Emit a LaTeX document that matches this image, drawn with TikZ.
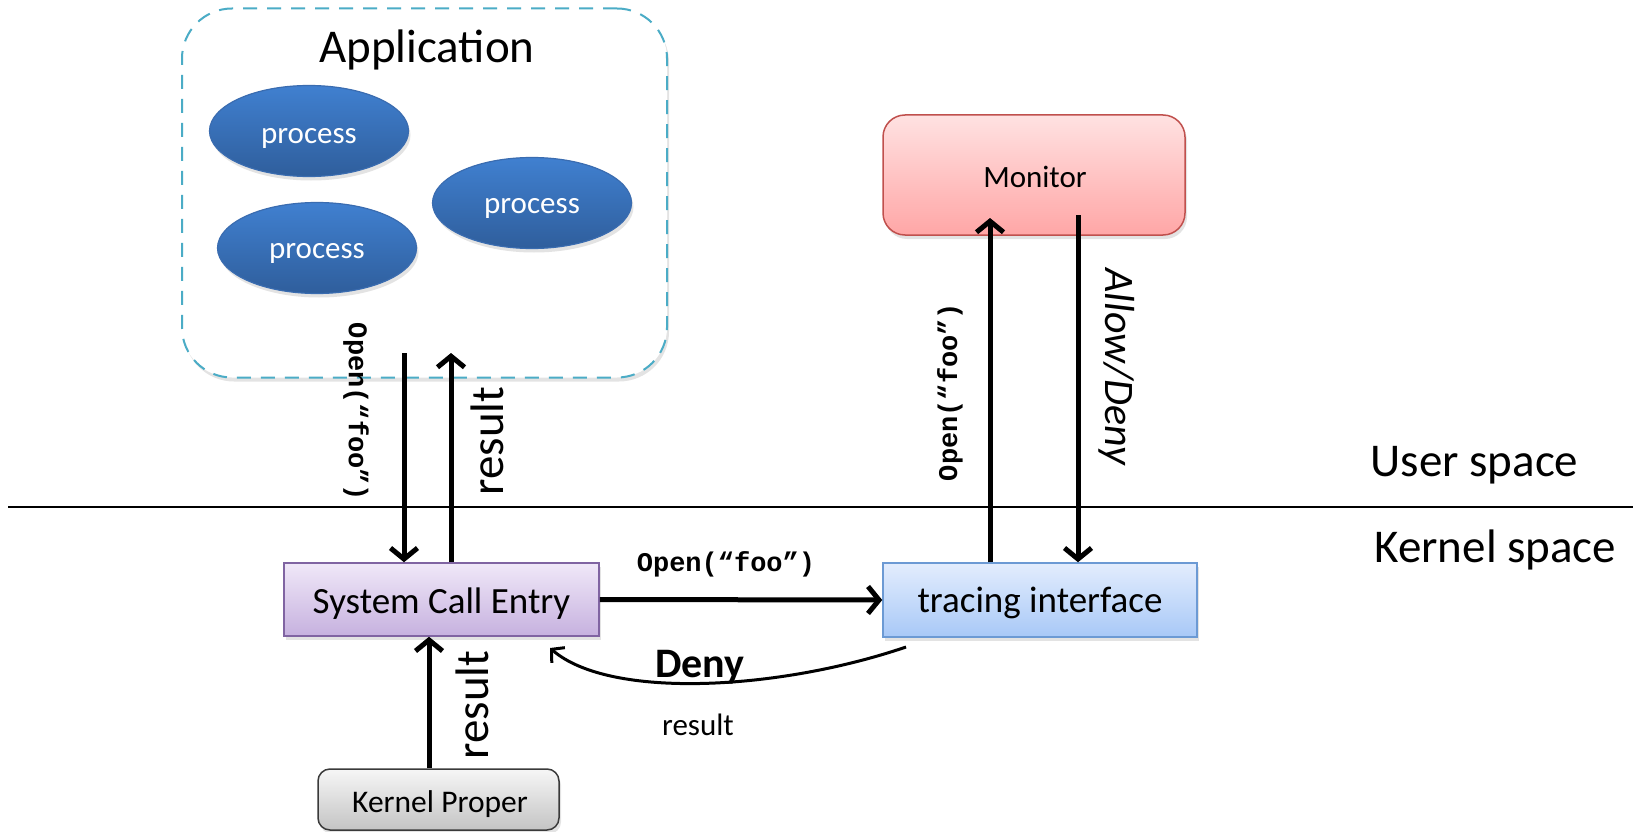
\documentclass[tikz,border=0pt]{standalone}
\usepackage{fontspec}
\setmainfont{Carlito}
\newfontfamily\monofnt{Liberation Mono}
\usetikzlibrary{arrows.meta,shapes.geometric,shadows,calc}
\definecolor{appline}{HTML}{4BACC6}
\definecolor{elltop}{HTML}{4080D0}
\definecolor{ellbot}{HTML}{2F5E9C}
\definecolor{ellline}{HTML}{3A6CB0}
\definecolor{montop}{HTML}{FFE2E2}
\definecolor{monbot}{HTML}{FFA6A6}
\definecolor{monline}{HTML}{C0504D}
\definecolor{scetop}{HTML}{F0E8F8}
\definecolor{scebot}{HTML}{C6B1DF}
\definecolor{sceline}{HTML}{8064A2}
\definecolor{trtop}{HTML}{E3EDFD}
\definecolor{trbot}{HTML}{A8C8F7}
\definecolor{trline}{HTML}{6C9AD4}
\definecolor{kptop}{HTML}{F6F6F6}
\definecolor{kpbot}{HTML}{C4C4C4}
\definecolor{kpline}{HTML}{3A3A3A}
\begin{document}
\begin{tikzpicture}[x=1pt,y=-1pt,
  shadowed/.style={drop shadow={opacity=0.22,shadow xshift=2pt,shadow yshift=-4pt}},
  appbox/.style={draw=appline,line width=2pt,dash pattern=on 14pt off 10pt,rounded corners=50pt,fill=white,shadowed,inner sep=0pt},
  procell/.style={ellipse,draw=ellline,line width=1.2pt,top color=elltop,bottom color=ellbot,shadowed,minimum width=199pt,minimum height=91pt,inner sep=0pt},
  proctext/.style={anchor=base,text=white,font=\fontsize{31}{37}\selectfont},
  boxbase/.style={line width=1.5pt,inner sep=0pt,shadowed},
  monbox/.style={boxbase,draw=monline,top color=montop,bottom color=monbot,rounded corners=22pt,minimum width=302pt,minimum height=120pt},
  scebox/.style={boxbase,draw=sceline,top color=scetop,bottom color=scebot,minimum width=315pt,minimum height=73pt},
  trbox/.style={boxbase,draw=trline,top color=trtop,bottom color=trbot,minimum width=314pt,minimum height=74pt},
  kpbox/.style={boxbase,draw=kpline,top color=kptop,bottom color=kpbot,rounded corners=12pt,minimum width=241pt,minimum height=61pt},
  lbl/.style={anchor=base,font=\fontsize{37}{44}\selectfont},
  big/.style={font=\fontsize{47}{56}\selectfont},
  mono/.style={font=\monofnt\bfseries\fontsize{27}{32}\selectfont},
  arr/.style={line width=5pt,-{Straight Barb[length=11pt,width=27pt,line width=5pt]}},
  thinarr/.style={line width=3pt,-{Straight Barb[length=9pt,width=20pt,line width=3pt]}}
]
\useasboundingbox (0,0) rectangle (1633,832);

% separator
\coordinate (sepL) at (8,507);
\coordinate (sepR) at (1633,507);
\draw[line width=1.5pt] (sepL) -- (sepR);

% application
\node[appbox,minimum width=485pt,minimum height=369pt] (app) at (424.5,193) {};
\node[anchor=base,big] (apptitle) at (427,63) {Application};
\node[procell] (p1) at (309,131) {};
\node[proctext] (p1t) at ($(p1.center)+(0,12)$) {process};
\node[procell] (p3) at (532,203) {};
\node[proctext] (p3t) at ($(p3.center)+(0,10)$) {process};
\node[procell] (p2) at (317,248) {};
\node[proctext] (p2t) at ($(p2.center)+(0,10)$) {process};

% monitor
\node[monbox] (mon) at (1034,175) {};
\node[anchor=base,font=\fontsize{31}{37}\selectfont] (mont) at (1035,187) {Monitor};

% kernel boxes
\node[scebox] (sce) at (441.5,599.5) {};
\node[lbl] (scet) at (441.5,613) {System Call Entry};
\node[trbox] (tr) at (1040,600) {};
\node[lbl] (trt) at (1040,612) {tracing interface};
\node[kpbox] (kp) at (438.5,799.5) {};
\node[anchor=base,font=\fontsize{31.5}{38}\selectfont] (kpt) at (440,812) {Kernel Proper};

% space labels
\node[anchor=base west,big] (us) at (1367,476) {User space};
\node[anchor=base west,big] (ks) at (1371,562) {Kernel space};

% arrows app <-> sce
\coordinate (o1) at (404,353);
\draw[arr] (o1) -- (o1 |- sce.north);
\coordinate (r1) at (451,353);
\draw[arr] (r1 |- sce.north) -- (r1);
\node[mono,rotate=-90] (openA) at (356,412) {Open(“foo”)};
\node[big,rotate=90] (resA) at (487,441) {result};

% kernel proper -> sce
\coordinate (k1) at (429,700);
\draw[arr] (k1 |- kp.north) -- (k1 |- sce.south);
\node[big,rotate=90] (resK) at (472,705) {result};

% sce -> tracing
\draw[arr] (sce.east) -- (tr.west);
\node[mono,anchor=base] (openH) at (726,571) {Open(“foo”)};

% tracing <-> monitor
\coordinate (m1) at (990,218);
\draw[arr] (m1 |- tr.north) -- (m1);
\coordinate (m2) at (1078,215);
\draw[arr] (m2) -- (m2 |- tr.north);
\node[mono,rotate=90] (openM) at (950,392) {Open(“foo”)};
\node[big,rotate=-90,font=\itshape\fontsize{42}{50}\selectfont] (ad) at (1117,367) {Allow/Deny};

% deny curve
\coordinate (d1) at (906,647);
\coordinate (d2) at (550,648);
\draw[thinarr] (d1) .. controls (780,690) and (610,700) .. (d2);
\node[anchor=base,font=\bfseries\fontsize{42}{50}\selectfont] (deny) at (700,677) {Deny};
\node[anchor=base,font=\fontsize{31}{37}\selectfont] (resD) at (698,735) {result};
\end{tikzpicture}
\end{document}
